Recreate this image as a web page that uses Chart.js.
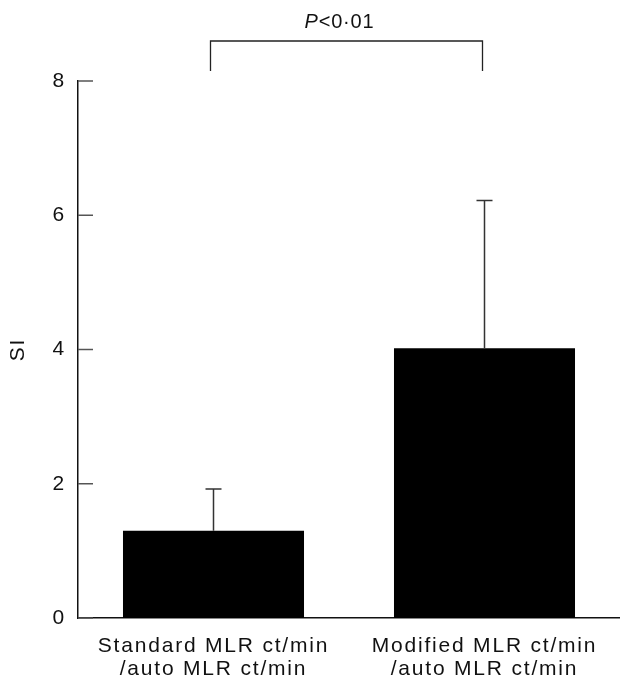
<!DOCTYPE html>
<html>
<head>
<meta charset="utf-8">
<script src="https://cdn.jsdelivr.net/npm/chart.js@4.4.1/dist/chart.umd.min.js"></script>
<style>
  html, body { margin: 0; padding: 0; background: #fff; }
  #wrap { width: 620px; height: 677px; position: relative; }
</style>
</head>
<body>
<div id="wrap"><canvas id="chart"></canvas></div>
<script>
// Datos
const categories = [
  ["Standard MLR ct/min", "/auto MLR ct/min"],
  ["Modified MLR ct/min", "/auto MLR ct/min"]
];
const siMeans = [1.3, 4.02];
const siUpper = [1.92, 6.22];
const yTicks = [0, 2, 4, 6, 8];
const pLabelItalic = "P";
const pLabelRest = "<0·01";

const FONT = "'Liberation Sans', Arial, Helvetica, sans-serif";

// Barras de error, marcas del eje y corchete de significación
const extrasPlugin = {
  id: "extras",
  beforeDraw(chart) {
    chart.ctx.letterSpacing = "1.8px";
  },
  afterDatasetsDraw(chart) {
    const ctx = chart.ctx;
    const x = chart.scales.x;
    const y = chart.scales.y;
    const area = chart.chartArea;

    ctx.save();
    // barras de error (solo hacia arriba)
    ctx.strokeStyle = "#333";
    ctx.lineWidth = 1.5;
    siMeans.forEach((m, i) => {
      const cx = x.getPixelForValue(i);
      const y0 = y.getPixelForValue(m);
      const y1 = y.getPixelForValue(siUpper[i]);
      ctx.beginPath();
      ctx.moveTo(cx, y0);
      ctx.lineTo(cx, y1);
      ctx.moveTo(cx - 8, y1);
      ctx.lineTo(cx + 8, y1);
      ctx.stroke();
    });

    // marcas del eje y hacia dentro
    ctx.strokeStyle = "#555";
    yTicks.forEach(v => {
      const py = y.getPixelForValue(v);
      ctx.beginPath();
      ctx.moveTo(area.left, py);
      ctx.lineTo(area.left + 15, py);
      ctx.stroke();
    });

    // corchete
    const xa = x.getPixelForValue(0) - 3;
    const xb = x.getPixelForValue(1) - 2;
    const top = area.top - 40;
    ctx.strokeStyle = "#222";
    ctx.lineWidth = 1.3;
    ctx.beginPath();
    ctx.moveTo(xa, area.top - 10);
    ctx.lineTo(xa, top);
    ctx.lineTo(xb, top);
    ctx.lineTo(xb, area.top - 10);
    ctx.stroke();

    // texto P<0·01
    ctx.fillStyle = "#111";
    ctx.textBaseline = "alphabetic";
    ctx.letterSpacing = "0.8px";
    ctx.font = "italic 20px " + FONT;
    const w1 = ctx.measureText(pLabelItalic).width;
    ctx.font = "20px " + FONT;
    const w2 = ctx.measureText(pLabelRest).width;
    const startX = (xa + xb) / 2 - (w1 + w2) / 2 - 7;
    ctx.textAlign = "left";
    ctx.font = "italic 20px " + FONT;
    ctx.fillText(pLabelItalic, startX, top - 13);
    ctx.font = "20px " + FONT;
    ctx.fillText(pLabelRest, startX + w1, top - 13);
    ctx.restore();
  }
};

new Chart(document.getElementById("chart"), {
  type: "bar",
  data: {
    labels: categories,
    datasets: [{
      data: siMeans,
      backgroundColor: "#000",
      borderWidth: 0,
      categoryPercentage: 1.0,
      barPercentage: 0.668
    }]
  },
  options: {
    responsive: true,
    maintainAspectRatio: false,
    animation: false,
    layout: { padding: { top: 81, right: 0, left: 0, bottom: 0 } },
    plugins: {
      legend: { display: false },
      tooltip: { enabled: false }
    },
    scales: {
      x: {
        grid: { display: false },
        border: { display: true, color: "#111", width: 1.5 },
        ticks: {
          color: "#111",
          font: { family: FONT, size: 21, lineHeight: 1.08 },
          padding: 9,
          maxRotation: 0,
          autoSkip: false
        },
        afterFit(scale) { scale.height = 59; }
      },
      y: {
        min: 0,
        max: 8,
        grid: { display: false },
        border: { display: true, color: "#111", width: 1.5 },
        afterBuildTicks(scale) {
          scale.ticks = yTicks.map(v => ({ value: v }));
        },
        ticks: {
          color: "#111",
          font: { family: FONT, size: 21 },
          padding: 4
        },
        title: {
          display: true,
          text: "SI",
          color: "#111",
          font: { family: FONT, size: 21 },
          padding: { top: 6, bottom: 0 }
        },
        afterFit(scale) { scale.width = 78; }
      }
    }
  },
  plugins: [extrasPlugin]
});
</script>
</body>
</html>
